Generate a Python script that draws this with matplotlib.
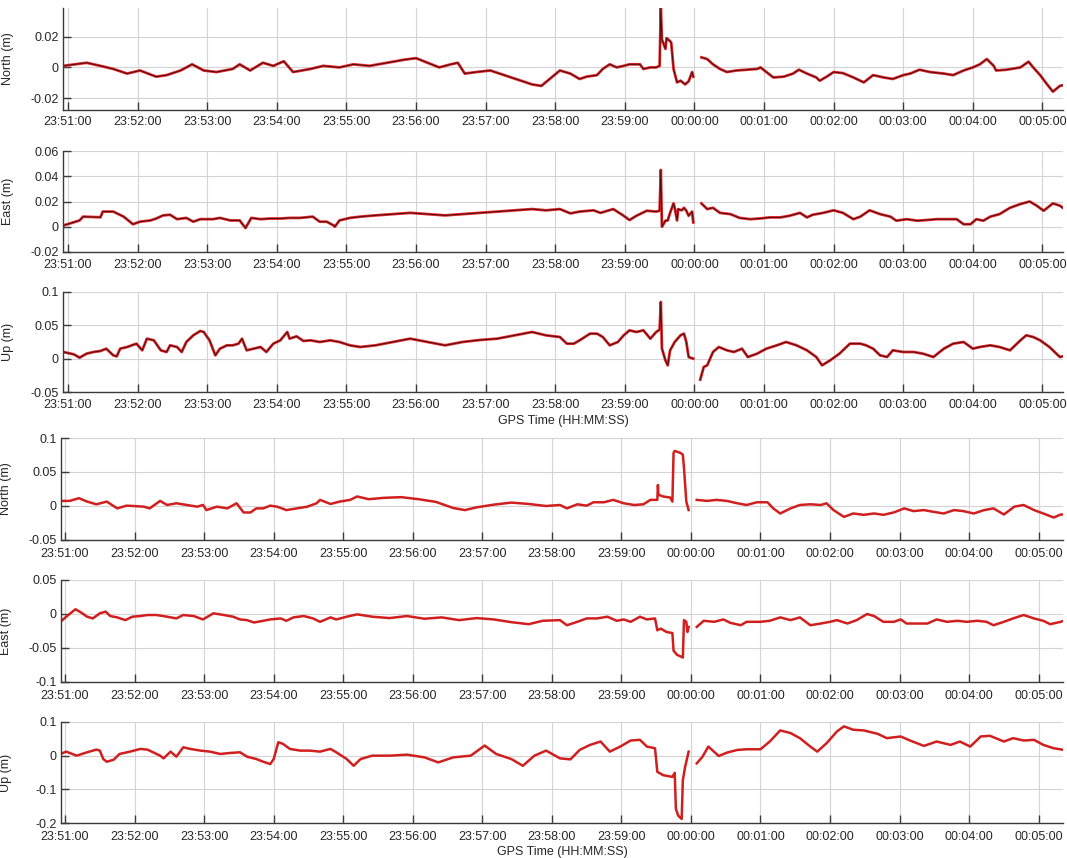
import numpy as np
import matplotlib
matplotlib.use("Agg")
import matplotlib.pyplot as plt
from matplotlib.ticker import FuncFormatter

plt.rcParams['font.family'] = ['Liberation Sans', 'DejaVu Sans']

nan = float("nan")

# x tick labels (one per minute, starting 23:51:00); time data in seconds after 23:51:00
tick_labels = ["23:51:00", "23:52:00", "23:53:00", "23:54:00", "23:55:00",
               "23:56:00", "23:57:00", "23:58:00", "23:59:00", "00:00:00",
               "00:01:00", "00:02:00", "00:03:00", "00:04:00", "00:05:00"]

# ---------------- top group ----------------
tn_t = [-4, 16, 28, 39, 51, 62, 76, 85, 97, 107, 117, 128, 142, 148, 157, 168, 177, 186, 194, 209,
        220, 234, 246, 260, 275, 290, 300, 310, 320, 330, 336, 342, 352, 364, 376, 388, 400, 408, 416,
        424, 433, 441, 447, 456, 461, 467, 473, 479, 484, 493, 496, 502, 507, 510, 511, 512, 515, 516,
        519, 520, 522, 525, 528, 532, 535, 538, 539, 542,
        546, 551, 556, 562, 568, 576, 585, 594, 597, 602, 608, 617, 625, 630, 637, 645, 648, 654, 660,
        668, 677, 686, 694, 703, 711, 720, 726, 734, 743, 755, 763, 772, 780, 786, 792, 798, 800, 809,
        821, 828, 832, 838, 844, 849, 855, 861]
tn_v = [0.001, 0.003, 0.001, -0.001, -0.004, -0.002, -0.006, -0.005, -0.002, 0.002, -0.002, -0.003,
        -0.001, 0.002, -0.002, 0.003, 0.001, 0.004, -0.003, -0.001, 0.001, 0.0, 0.002, 0.001, 0.003,
        0.005, 0.006, 0.003, 0.0, 0.002, 0.003, -0.004, -0.003, -0.002, -0.005, -0.008, -0.011, -0.012,
        -0.007, -0.002, -0.004, -0.0075, -0.006, -0.005, -0.001, 0.002, 0.0, 0.001, 0.002, 0.002, -0.001,
        0.0, 0.0, 0.001, 0.0385, 0.018, 0.012, 0.019, 0.017, 0.016, -0.001, -0.0097, -0.0086, -0.011,
        -0.009, -0.003, -0.006, nan,
        0.0065, 0.0054, 0.002, -0.001, -0.003, -0.002, -0.0015, -0.001, 0.0, -0.003, -0.0065, -0.006,
        -0.004, -0.0015, -0.004, -0.0065, -0.0086, -0.006, -0.003, -0.0037, -0.0065, -0.0097, -0.005,
        -0.0065, -0.0075, -0.005, -0.004, -0.0015, -0.003, -0.004, -0.005, -0.002, 0.0, 0.002, 0.0054,
        0.001, -0.002, -0.0015, 0.0, 0.0037, 0.0, -0.005, -0.011, -0.0157, -0.012, -0.011]

te_t = [-4, 10, 13, 28, 30, 39, 48, 56, 62, 71, 76, 82, 88, 94, 102, 108, 114, 125, 131, 140, 148,
        153, 158, 166, 174, 183, 191, 200, 211, 217, 223, 229, 230, 234, 243, 252, 265, 280, 295, 310,
        325, 340, 355, 370, 385, 400, 412, 424, 433, 441, 453, 459, 470, 479, 484, 490, 499, 507, 510,
        511, 512, 515, 517, 519, 522, 523, 525, 526, 529, 531, 533, 535, 538, 539, 542,
        546, 551, 556, 562, 571, 579, 588, 597, 605, 614, 622, 631, 637, 642, 651, 660, 668, 677, 683,
        691, 700, 709, 714, 723, 732, 740, 749, 757, 766, 772, 778, 783, 789, 795, 803, 812, 821, 829,
        835, 841, 849, 855, 861]
te_v = [0.001, 0.005, 0.008, 0.0075, 0.012, 0.012, 0.008, 0.002, 0.004, 0.005, 0.0065, 0.009, 0.0095,
        0.006, 0.007, 0.004, 0.006, 0.006, 0.007, 0.005, 0.005, -0.001, 0.007, 0.006, 0.0065, 0.0065,
        0.007, 0.007, 0.008, 0.004, 0.004, 0.001, 0.0, 0.005, 0.007, 0.008, 0.009, 0.010, 0.011, 0.010,
        0.009, 0.010, 0.011, 0.012, 0.013, 0.014, 0.013, 0.014, 0.0106, 0.012, 0.013, 0.011, 0.014,
        0.0087, 0.0053, 0.0087, 0.0127, 0.012, 0.0127, 0.045, 0.0, 0.0048, 0.005, 0.011, 0.0185, 0.015,
        0.005, 0.014, 0.013, 0.015, 0.0127, 0.0087, 0.012, 0.0034, nan,
        0.0185, 0.014, 0.015, 0.011, 0.010, 0.007, 0.006, 0.0066, 0.0074, 0.0074, 0.0087, 0.011, 0.0074,
        0.0095, 0.011, 0.013, 0.011, 0.006, 0.008, 0.013, 0.010, 0.008, 0.0048, 0.006, 0.0048, 0.0053,
        0.006, 0.006, 0.006, 0.002, 0.002, 0.006, 0.0048, 0.008, 0.010, 0.015, 0.018, 0.020, 0.0167,
        0.0127, 0.0185, 0.0167, 0.0127]

tu_t = [-4, 5, 10, 16, 22, 28, 33, 39, 42, 45, 51, 59, 64, 68, 74, 80, 85, 88, 94, 98, 102, 108, 114,
        117, 122, 127, 131, 137, 142, 147, 150, 154, 160, 166, 171, 177, 183, 189, 191, 197, 203, 209,
        217, 226, 234, 243, 252, 265, 280, 295, 310, 325, 340, 355, 370, 385, 400, 412, 424, 430, 436,
        441, 450, 456, 461, 467, 474, 479, 484, 490, 496, 502, 507, 510, 511, 512, 515, 517, 519, 523,
        528, 531, 533, 535, 539, 542,
        545, 548, 551, 556, 561, 568, 574, 581, 586, 594, 602, 611, 619, 628, 637, 645, 650, 657, 665,
        674, 683, 688, 694, 700, 706, 711, 720, 729, 737, 746, 755, 763, 772, 780, 786, 795, 803, 812,
        821, 826, 832, 838, 846, 855, 861]
tu_v = [0.010, 0.0065, 0.0015, 0.0075, 0.010, 0.0115, 0.015, 0.005, 0.0035, 0.015, 0.0175, 0.0225,
        0.0125, 0.030, 0.0275, 0.0125, 0.010, 0.020, 0.0175, 0.010, 0.025, 0.035, 0.0415, 0.040, 0.0275,
        0.005, 0.015, 0.020, 0.020, 0.0225, 0.030, 0.0125, 0.015, 0.0175, 0.010, 0.0225, 0.0275, 0.040,
        0.030, 0.0335, 0.0265, 0.0275, 0.025, 0.0275, 0.025, 0.020, 0.0175, 0.020, 0.025, 0.030, 0.025,
        0.020, 0.025, 0.028, 0.030, 0.035, 0.040, 0.035, 0.0325, 0.0225, 0.0225, 0.0275, 0.0375, 0.0375,
        0.0325, 0.020, 0.025, 0.035, 0.0425, 0.040, 0.0425, 0.030, 0.040, 0.0435, 0.085, 0.015, -0.0025,
        -0.010, 0.0125, 0.025, 0.035, 0.0375, 0.025, 0.0025, 0.0, nan,
        -0.0315, -0.0125, -0.010, 0.010, 0.0175, 0.0125, 0.010, 0.015, 0.0025, 0.0075, 0.015, 0.020,
        0.025, 0.020, 0.0125, 0.0025, -0.010, -0.0025, 0.0075, 0.0225, 0.0225, 0.020, 0.015, 0.005,
        0.0025, 0.0125, 0.010, 0.010, 0.0075, 0.0025, 0.015, 0.0225, 0.025, 0.015, 0.0175, 0.020, 0.0175,
        0.0125, 0.0275, 0.035, 0.0325, 0.0275, 0.0175, 0.0025, 0.005]

# ---------------- bottom group ----------------
bn_t = [-4, 4, 12, 19, 27, 36, 45, 53, 59, 68, 73, 82, 88, 96, 105, 114, 119, 122, 131, 140, 148, 154,
        160, 165, 171, 177, 183, 191, 200, 209, 217, 220, 229, 237, 246, 252, 262, 275, 290, 305, 320,
        335, 345, 355, 370, 385, 400, 415, 427, 433, 442, 450, 456, 465, 473, 482, 491, 499, 505, 511,
        511.5, 512, 516, 522, 524, 525, 526, 531, 533, 534, 536, 538, 541,
        545, 554, 562, 571, 580, 588, 597, 606, 611, 617, 626, 634, 643, 652, 657, 663, 672, 680, 689,
        698, 706, 715, 724, 732, 741, 749, 758, 767, 775, 784, 793, 801, 810, 819, 827, 836, 844, 853,
        859, 865]
bn_v = [0.0075, 0.0075, 0.0115, 0.0065, 0.0025, 0.0065, -0.0035, 0.0005, 0.0, -0.001, -0.0035, 0.0075,
        0.0015, 0.004, 0.0015, -0.001, 0.0015, -0.006, -0.001, -0.0035, 0.004, -0.0095, -0.0095, -0.0035,
        -0.0035, 0.0005, -0.001, -0.006, -0.0035, -0.001, 0.004, 0.009, 0.003, 0.0065, 0.009, 0.014,
        0.010, 0.012, 0.013, 0.010, 0.006, -0.003, -0.006, -0.002, 0.002, 0.005, 0.003, 0.0, 0.0015,
        -0.0035, 0.0025, 0.0005, 0.0055, 0.0055, 0.009, 0.004, 0.0015, 0.0025, 0.009, 0.009, 0.031,
        0.0165, 0.014, 0.0125, 0.0065, 0.078, 0.081, 0.078, 0.0755, 0.056, 0.0065, -0.006, nan,
        0.009, 0.0075, 0.009, 0.0075, 0.004, 0.0015, 0.0055, 0.0055, -0.0035, -0.011, -0.0035, 0.0015,
        0.0025, 0.0015, 0.004, -0.006, -0.016, -0.011, -0.013, -0.011, -0.013, -0.0095, -0.0035, -0.0075,
        -0.006, -0.0085, -0.011, -0.006, -0.0075, -0.011, -0.006, -0.0035, -0.0125, -0.001, 0.0015,
        -0.006, -0.011, -0.017, -0.0125, -0.0125]

be_t = [-4, 1, 9, 14, 19, 24, 30, 35, 39, 45, 52, 58, 65, 71, 79, 88, 96, 102, 111, 119, 128, 137,
        145, 151, 157, 163, 171, 177, 186, 191, 197, 206, 214, 220, 229, 234, 243, 252, 265, 280, 295,
        310, 325, 340, 355, 370, 385, 400, 412, 427, 433, 442, 450, 459, 468, 476, 482, 488, 496, 502,
        509, 511, 514, 519, 524, 525, 528, 533, 534, 536, 537, 538, 541,
        545, 551, 560, 568, 574, 583, 588, 600, 608, 617, 626, 634, 643, 652, 660, 666, 675, 683, 692,
        698, 706, 715, 721, 726, 735, 744, 752, 761, 770, 778, 787, 795, 801, 810, 818, 827, 836, 844,
        850, 859, 865]
be_v = [-0.0115, -0.004, 0.007, 0.002, -0.004, -0.0065, 0.001, 0.0035, -0.003, -0.005, -0.009, -0.004,
        -0.003, -0.0015, -0.0015, -0.004, -0.0065, -0.0015, -0.003, -0.008, 0.001, -0.0015, -0.004,
        -0.008, -0.009, -0.0125, -0.010, -0.008, -0.0065, -0.010, -0.005, -0.003, -0.0065, -0.0115,
        -0.005, -0.008, -0.004, -0.0005, -0.004, -0.006, -0.003, -0.007, -0.005, -0.009, -0.006, -0.008,
        -0.012, -0.015, -0.010, -0.009, -0.0165, -0.0115, -0.0065, -0.0065, -0.004, -0.010, -0.008,
        -0.0115, -0.004, -0.008, -0.0065, -0.024, -0.0215, -0.0265, -0.028, -0.054, -0.060, -0.064,
        -0.009, -0.0115, -0.0265, -0.019, nan,
        -0.019, -0.010, -0.0115, -0.008, -0.013, -0.0165, -0.0115, -0.0115, -0.010, -0.005, -0.009,
        -0.005, -0.0165, -0.014, -0.0115, -0.009, -0.014, -0.009, 0.0, -0.003, -0.0115, -0.0115, -0.008,
        -0.014, -0.014, -0.014, -0.008, -0.0115, -0.010, -0.0115, -0.010, -0.0115, -0.0165, -0.0115,
        -0.0065, -0.0015, -0.0065, -0.010, -0.015, -0.0115, -0.008]

bu_t = [-4, 1, 10, 19, 27, 30, 33, 36, 42, 47, 56, 65, 71, 76, 82, 85, 91, 96, 102, 108, 117, 125, 134,
        142, 151, 157, 165, 171, 177, 180, 184, 188, 194, 203, 211, 220, 229, 234, 243, 249, 255, 265,
        280, 295, 310, 322, 335, 350, 362, 372, 385, 395, 405, 415, 427, 436, 444, 453, 462, 470, 479,
        488, 496, 502, 509, 511, 516, 524, 526, 527, 529, 532, 533, 535, 538, 541,
        545, 550, 555, 564, 571, 580, 588, 600, 608, 617, 626, 634, 643, 649, 657, 666, 672, 680, 689,
        701, 709, 721, 729, 741, 752, 764, 772, 781, 790, 798, 810, 818, 827, 836, 844, 853, 862]
bu_v = [0.005, 0.012, 0.0, 0.010, 0.018, 0.015, -0.010, -0.018, -0.012, 0.005, 0.012, 0.020, 0.018,
        0.010, 0.0, -0.008, 0.012, -0.003, 0.025, 0.020, 0.015, 0.012, 0.005, 0.008, 0.010, -0.003,
        -0.010, -0.018, -0.025, -0.010, 0.040, 0.035, 0.020, 0.015, 0.015, 0.012, 0.020, 0.010, -0.010,
        -0.030, -0.010, 0.0, 0.0, 0.003, -0.005, -0.020, -0.005, 0.0, 0.030, 0.005, -0.010, -0.030,
        0.0, 0.015, -0.008, -0.011, 0.017, 0.032, 0.042, 0.012, 0.027, 0.045, 0.047, 0.027, 0.022,
        -0.048, -0.058, -0.063, -0.051, -0.158, -0.178, -0.188, -0.073, -0.033, 0.012, nan,
        -0.023, -0.003, 0.027, -0.001, 0.009, 0.017, 0.019, 0.019, 0.042, 0.075, 0.067, 0.052, 0.027,
        0.012, 0.037, 0.072, 0.087, 0.077, 0.075, 0.065, 0.052, 0.057, 0.045, 0.029, 0.042, 0.032,
        0.042, 0.027, 0.057, 0.059, 0.042, 0.052, 0.045, 0.047, 0.032, 0.022, 0.017]

W, H = 1067, 858
fig = plt.figure(figsize=(W / 100, H / 100), dpi=100)
fig.patch.set_facecolor("white")

AX_COL = "#3a3a3a"
TXT_COL = "#262626"


def px_axes(left, top, right, bottom):
    return fig.add_axes([left / W, 1 - bottom / H, (right - left) / W, (bottom - top) / H])


def style(ax, ylim, yticks, ylabel, xlim, xlabel=False, xpad=4):
    ax.set_xlim(*xlim)
    ax.set_ylim(*ylim)
    ax.set_xticks([60 * i for i in range(len(tick_labels))])
    ax.set_xticklabels(tick_labels)
    ax.set_yticks(yticks)
    ax.yaxis.set_major_formatter(FuncFormatter(lambda v, p: f"{v:g}"))
    ax.grid(True, color="#d4d4d4", lw=0.8)
    ax.set_axisbelow(True)
    for s in ["top", "right"]:
        ax.spines[s].set_visible(False)
    for s in ["left", "bottom"]:
        ax.spines[s].set_color(AX_COL)
        ax.spines[s].set_linewidth(1.0)
    ax.tick_params(direction="in", length=6, width=1.0, colors=AX_COL, labelcolor=TXT_COL,
                   labelsize=9, pad=3)
    ax.tick_params(axis="x", pad=xpad)
    ax.set_ylabel(ylabel, fontsize=9, color=TXT_COL)
    ax.yaxis.set_label_coords(-0.049, 0.5)
    if xlabel:
        ax.set_xlabel("GPS Time (HH:MM:SS)", fontsize=9, color=TXT_COL)
        ax.xaxis.set_label_coords(0.5, -0.23)


top_xlim = (-4.3, 857.7)
bot_xlim = (-3.5, 861)

ax1 = px_axes(63, 8, 1063, 110)
ax2 = px_axes(63, 151, 1063, 252)
ax3 = px_axes(63, 292, 1063, 392)
ax4 = px_axes(61, 438, 1063, 540)
ax5 = px_axes(61, 580, 1063, 682)
ax6 = px_axes(61, 722, 1063, 823)

for ax, t, v in [(ax1, tn_t, tn_v), (ax2, te_t, te_v), (ax3, tu_t, tu_v)]:
    ax.plot(t, v, color="#e3262b", lw=2.0)
    ax.plot(t, v, color="#4a0d0d", lw=0.7)

for ax, t, v in [(ax4, bn_t, bn_v), (ax5, be_t, be_v), (ax6, bu_t, bu_v)]:
    ax.plot(t, v, color="#d11f1f", lw=1.8)

style(ax1, (-0.0276, 0.0385), [-0.02, 0, 0.02], "North (m)", top_xlim)
style(ax2, (-0.02, 0.06), [-0.02, 0, 0.02, 0.04, 0.06], "East (m)", top_xlim, xpad=5)
style(ax3, (-0.05, 0.1), [-0.05, 0, 0.05, 0.1], "Up (m)", top_xlim, xlabel=True, xpad=5)
style(ax4, (-0.05, 0.1), [-0.05, 0, 0.05, 0.1], "North (m)", bot_xlim, xpad=6)
style(ax5, (-0.1, 0.05), [-0.1, -0.05, 0, 0.05], "East (m)", bot_xlim, xpad=6)
style(ax6, (-0.2, 0.1), [-0.2, -0.1, 0, 0.1], "Up (m)", bot_xlim, xlabel=True, xpad=6)

fig.savefig("out.png", dpi=100, facecolor="white")
